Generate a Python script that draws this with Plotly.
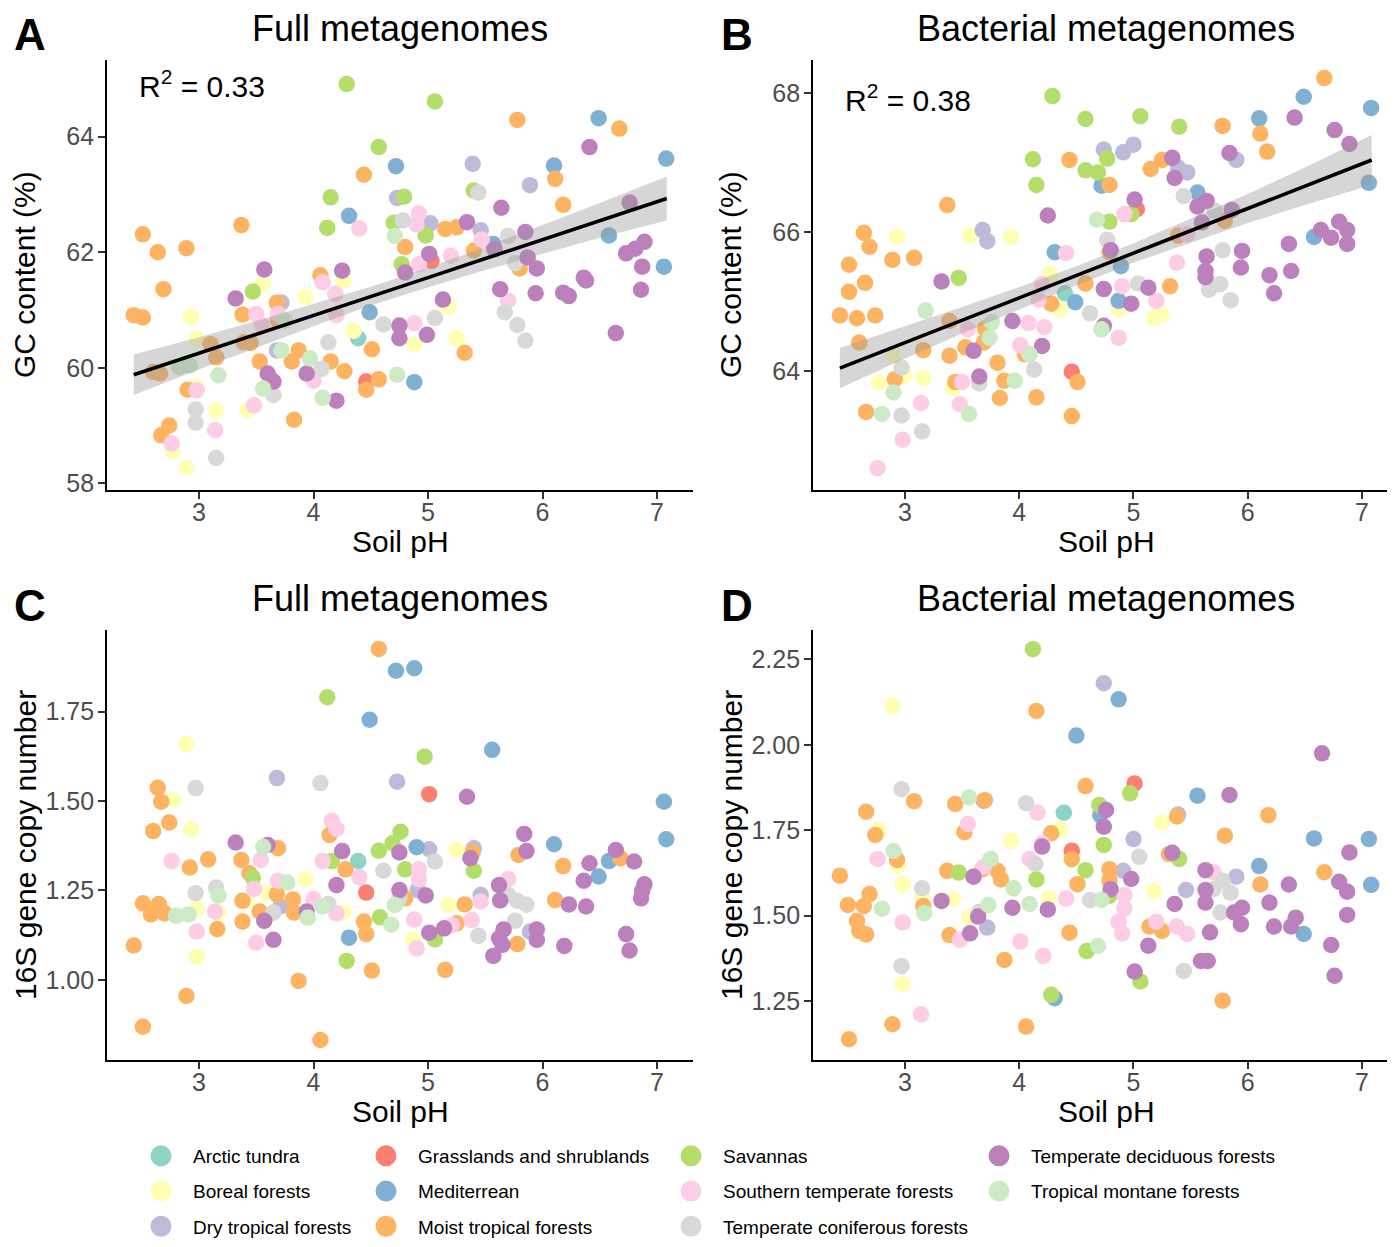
import plotly.graph_objects as go

# ---------------- categories ----------------
CATS = ["Arctic tundra", "Boreal forests", "Dry tropical forests",
        "Grasslands and shrublands", "Mediterrean", "Moist tropical forests",
        "Savannas", "Southern temperate forests", "Temperate coniferous forests",
        "Temperate deciduous forests", "Tropical montane forests"]
COLORS = ["#8DD3C7", "#FFFFB3", "#BEBADA", "#FB8072", "#80B1D3", "#FDB462",
          "#B3DE69", "#FCCDE5", "#D9D9D9", "#BC80BD", "#CCEBC5"]

# ---------------- Panel A: full metagenomes, GC content ----------------
A_ARC = [(4.39, 60.51)]
A_BOR = [(3.56, 61.45), (2.93, 60.88), (2.98, 60.50), (2.98, 59.67), (3.15, 59.26), (3.42, 59.26),
         (2.77, 58.55), (2.89, 58.27), (3.93, 61.22), (4.26, 61.51), (4.35, 60.64), (5.18, 61.05),
         (5.25, 60.51), (4.88, 60.40)]
A_DRY = [(4.73, 62.94), (3.72, 61.13), (3.68, 60.30), (5.39, 63.53), (5.89, 63.16), (5.02, 62.50), (5.46, 62.38)]
A_GRA = [(4.46, 59.76), (5.03, 61.85)]
A_MED = [(4.72, 63.49), (4.31, 62.63), (4.49, 60.96), (6.49, 64.32), (6.10, 63.50), (7.08, 63.62),
         (6.58, 62.29), (7.06, 61.75), (4.88, 59.75), (5.57, 62.14)]
A_MOI = [(2.51, 62.31), (2.64, 62.00), (2.89, 62.07), (3.37, 62.47), (2.69, 61.36), (2.43, 60.91),
         (2.51, 60.87), (3.38, 60.92), (3.68, 61.13), (2.60, 59.93), (2.66, 59.90), (2.90, 59.62),
         (2.74, 59.00), (2.67, 58.83), (3.10, 60.41), (3.15, 60.18), (3.39, 60.44), (3.45, 60.43),
         (3.53, 60.11), (3.81, 60.11), (3.87, 60.30), (3.83, 59.10), (4.06, 61.60), (4.15, 60.11),
         (4.27, 59.94), (4.51, 60.32), (4.57, 59.80), (4.44, 63.34), (4.46, 59.62), (3.69, 60.82),
         (5.78, 64.29), (6.67, 64.14), (6.11, 63.27), (6.18, 62.82), (5.15, 62.40), (5.25, 62.43),
         (4.80, 62.09), (5.40, 62.03), (5.80, 61.72), (5.32, 60.26)]
A_SAV = [(4.29, 64.91), (4.57, 63.82), (4.15, 62.95), (4.12, 62.42), (3.47, 61.32), (4.70, 62.51),
         (4.77, 61.79), (5.06, 64.61), (4.79, 62.96), (4.98, 62.29), (5.40, 63.07)]
A_SOU = [(4.40, 62.41), (4.08, 61.48), (4.19, 61.28), (4.20, 60.91), (3.50, 60.93), (3.55, 60.73),
         (3.69, 60.93), (2.98, 59.61), (2.76, 58.69), (3.14, 58.92), (3.48, 59.35), (4.00, 59.78),
         (4.92, 62.67), (4.90, 62.48), (5.20, 61.94), (4.92, 61.79), (5.70, 61.16), (4.88, 60.77),
         (5.47, 62.22)]
A_CON = [(2.97, 59.28), (2.97, 59.05), (3.15, 58.44), (3.65, 59.53), (4.13, 60.44), (4.61, 60.75),
         (4.07, 59.98), (5.44, 63.03), (4.78, 62.55), (5.70, 62.28), (5.76, 61.81), (5.06, 60.86),
         (5.67, 60.96), (5.78, 60.74), (5.85, 60.47)]
A_DEC = [(3.57, 61.70), (3.32, 61.20), (4.25, 61.68), (3.60, 59.90), (3.65, 59.76), (3.94, 59.90),
         (4.20, 59.43), (4.75, 60.73), (4.75, 60.51), (6.41, 63.82), (5.64, 62.77), (5.34, 62.52),
         (5.85, 62.35), (6.76, 62.86), (5.01, 61.97), (5.58, 62.05), (5.87, 61.91), (5.95, 61.72),
         (5.13, 61.18), (5.63, 61.36), (5.94, 61.29), (6.18, 61.30), (6.23, 61.24), (6.36, 61.56),
         (6.38, 61.51), (6.73, 61.98), (6.81, 62.06), (6.89, 62.18), (6.87, 61.75), (6.86, 61.35),
         (6.64, 60.60), (4.99, 60.57), (4.80, 61.65)]
A_MON = [(4.71, 62.28), (3.75, 60.82), (3.97, 60.16), (2.83, 60.01), (2.92, 60.04), (3.17, 59.87),
         (3.56, 59.64), (4.08, 59.48), (4.73, 59.88), (3.72, 60.30)]

# ---------------- Panel B: bacterial metagenomes, GC content ----------------
B_ARC = [(4.40, 65.12)]
B_BOR = [(2.93, 65.93), (3.57, 65.95), (3.93, 65.93), (4.27, 65.40), (4.36, 64.89), (2.90, 64.22),
         (2.77, 63.83), (2.99, 63.93), (3.16, 63.90), (3.42, 63.75), (4.87, 64.89), (5.18, 64.77),
         (5.25, 64.81)]
B_DRY = [(3.68, 66.03), (3.72, 65.87), (4.74, 67.19), (4.91, 67.15), (5.00, 67.26), (5.39, 66.93),
         (5.47, 66.86), (5.90, 67.04)]
B_GRA = [(4.46, 63.99), (5.03, 66.33)]
B_MED = [(4.31, 65.71), (4.49, 64.99), (4.72, 66.67), (6.49, 67.95), (6.10, 67.64), (7.08, 67.79),
         (7.06, 66.71), (6.58, 65.93), (5.56, 66.57), (4.89, 65.51), (4.87, 65.01)]
B_MOI = [(4.44, 67.04), (3.37, 66.39), (2.64, 65.99), (2.69, 65.79), (2.89, 65.60), (3.08, 65.63),
         (2.51, 65.53), (2.65, 65.27), (2.51, 65.14), (2.43, 64.80), (2.58, 64.76), (2.74, 64.80),
         (2.60, 64.41), (3.16, 64.30), (3.39, 64.22), (3.53, 64.34), (3.69, 64.41), (3.70, 64.61),
         (3.39, 64.72), (3.81, 64.12), (3.87, 63.86), (3.83, 63.61), (4.15, 63.62), (4.51, 63.84),
         (4.46, 63.35), (2.66, 63.41), (2.91, 63.88), (3.44, 63.84), (4.28, 64.97), (4.58, 65.26),
         (4.05, 64.24), (6.67, 68.22), (5.78, 67.53), (6.11, 67.42), (6.17, 67.16), (5.15, 66.91),
         (5.25, 67.04), (4.79, 66.68), (5.39, 65.95), (5.80, 66.16), (5.32, 65.22), (4.79, 65.71)]
B_SAV = [(4.29, 67.96), (4.58, 67.63), (4.12, 67.05), (4.15, 66.68), (4.58, 66.89), (4.69, 66.86),
         (3.47, 65.34), (5.06, 67.67), (5.40, 67.52), (4.77, 67.06), (4.79, 66.15), (4.98, 66.26)]
B_SOU = [(4.41, 65.70), (4.20, 65.25), (4.17, 65.03), (3.55, 64.60), (4.08, 64.69), (4.22, 64.63),
         (4.01, 64.37), (3.50, 63.84), (3.14, 63.54), (3.48, 63.52), (2.98, 63.01), (2.76, 62.60),
         (4.92, 66.26), (5.47, 65.97), (5.38, 65.56), (4.90, 65.22), (5.20, 65.01), (5.70, 65.23),
         (4.87, 64.48)]
B_CON = [(4.62, 64.83), (4.13, 64.02), (3.65, 63.82), (2.97, 64.05), (2.97, 63.36), (3.15, 63.13),
         (5.44, 66.52), (5.71, 66.31), (4.77, 65.89), (5.78, 65.74), (5.04, 65.26), (5.76, 65.25),
         (5.66, 65.17), (5.85, 65.02)]
B_DEC = [(4.25, 66.24), (3.32, 65.29), (3.60, 64.29), (3.94, 64.72), (4.20, 64.36), (3.65, 63.92),
         (4.74, 65.18), (4.74, 64.65), (6.41, 67.65), (6.76, 67.47), (6.89, 67.27), (5.84, 67.14),
         (5.34, 67.07), (5.36, 66.78), (5.01, 66.47), (5.56, 66.37), (5.64, 66.45), (5.86, 66.32),
         (5.60, 66.14), (4.80, 65.74), (5.64, 65.65), (5.63, 65.44), (5.63, 65.35), (5.95, 65.73),
         (5.94, 65.49), (6.19, 65.38), (6.23, 65.12), (6.36, 65.83), (6.38, 65.44), (6.64, 66.03),
         (6.73, 65.92), (6.80, 66.15), (6.87, 66.03), (6.87, 65.83), (4.98, 64.97), (5.13, 65.20)]
B_MON = [(4.68, 66.18), (3.18, 64.87), (3.76, 64.70), (3.74, 64.48), (4.09, 64.24), (3.96, 63.86),
         (2.90, 63.69), (2.80, 63.38), (3.56, 63.38), (4.72, 64.60)]

# ---------------- Panel C: full metagenomes, 16S copy number ----------------
C_ARC = [(4.39, 1.332)]
C_BOR = [(2.89, 1.659), (2.77, 1.503), (2.93, 1.421), (2.98, 1.198), (3.17, 1.186), (2.98, 1.065),
         (3.58, 1.244), (3.42, 1.221), (3.93, 1.281), (4.26, 1.189), (5.25, 1.363), (5.18, 1.209),
         (4.87, 1.112)]
C_DRY = [(3.68, 1.564), (4.73, 1.554), (3.71, 1.205), (5.01, 1.365), (5.40, 1.368), (5.46, 1.237),
         (4.91, 1.251), (5.89, 1.135)]
C_GRA = [(4.46, 1.244), (5.01, 1.519)]
C_MED = [(4.72, 1.864), (4.88, 1.871), (4.49, 1.727), (4.31, 1.118), (5.56, 1.643), (7.06, 1.498),
         (7.08, 1.393), (6.10, 1.379), (6.58, 1.332), (6.49, 1.289), (4.90, 1.371)]
C_MOI = [(4.57, 1.925), (2.64, 1.537), (2.67, 1.498), (2.74, 1.440), (2.60, 1.416), (2.92, 1.314),
         (3.08, 1.337), (3.37, 1.335), (3.69, 1.368), (3.44, 1.298), (2.51, 1.214), (2.65, 1.212),
         (2.58, 1.183), (2.70, 1.186), (3.38, 1.221), (3.38, 1.163), (3.16, 1.142), (3.53, 1.191),
         (3.68, 1.239), (3.82, 1.225), (3.83, 1.188), (4.14, 1.405), (4.28, 1.309), (4.44, 1.163),
         (4.46, 1.128), (2.43, 1.096), (4.51, 1.026), (3.87, 0.997), (2.89, 0.955), (2.51, 0.869),
         (4.06, 0.832), (5.39, 1.356), (5.79, 1.349), (6.18, 1.318), (5.32, 1.211), (6.11, 1.223),
         (5.25, 1.158), (5.78, 1.100), (5.15, 1.028), (6.68, 1.340), (4.80, 1.228)]
C_SAV = [(4.12, 1.790), (3.47, 1.286), (4.57, 1.361), (4.69, 1.382), (4.76, 1.414), (4.58, 1.175),
         (4.29, 1.053), (4.16, 1.332), (4.80, 1.309), (4.97, 1.624), (5.40, 1.305), (5.06, 1.113)]
C_SOU = [(2.76, 1.332), (3.14, 1.191), (2.98, 1.135), (3.50, 1.104), (3.48, 1.254), (3.54, 1.335),
         (3.69, 1.277), (4.00, 1.226), (4.08, 1.332), (4.16, 1.444), (4.20, 1.422), (4.40, 1.287),
         (4.20, 1.186), (4.92, 1.309), (4.92, 1.281), (5.70, 1.282), (4.88, 1.169), (4.90, 1.088),
         (5.21, 1.153), (5.38, 1.167), (5.46, 1.219)]
C_CON = [(2.97, 1.536), (4.06, 1.550), (2.97, 1.242), (3.15, 1.258), (3.65, 1.188), (4.13, 1.212),
         (4.61, 1.305), (4.75, 1.228), (5.06, 1.331), (5.70, 1.237), (5.78, 1.221), (5.86, 1.210),
         (5.76, 1.165), (5.44, 1.123)]
C_DEC = [(3.32, 1.384), (3.60, 1.377), (3.57, 1.165), (3.65, 1.112), (3.94, 1.191), (4.25, 1.360),
         (4.20, 1.265), (4.75, 1.356), (4.75, 1.251), (5.34, 1.512), (5.84, 1.408), (5.86, 1.360),
         (5.37, 1.340), (6.41, 1.326), (6.64, 1.363), (6.80, 1.331), (6.36, 1.277), (6.89, 1.267),
         (6.87, 1.249), (6.86, 1.228), (6.23, 1.211), (6.38, 1.205), (4.98, 1.236), (5.62, 1.265),
         (5.63, 1.222), (5.01, 1.132), (5.14, 1.144), (5.66, 1.141), (5.62, 1.116), (5.65, 1.098),
         (5.57, 1.067), (5.95, 1.141), (5.95, 1.112), (6.19, 1.095), (6.73, 1.128), (6.76, 1.082)]
C_MON = [(2.80, 1.179), (2.91, 1.183), (3.17, 1.236), (3.56, 1.372), (3.77, 1.272), (3.95, 1.174),
         (4.08, 1.205), (4.68, 1.154), (4.71, 1.209)]

# ---------------- Panel D: bacterial metagenomes, 16S copy number ----------------
D_ARC = [(4.39, 1.801)]
D_BOR = [(2.89, 2.114), (2.77, 1.752), (2.94, 1.646), (2.98, 1.592), (3.15, 1.555), (3.42, 1.548),
         (2.98, 1.299), (3.93, 1.718), (4.36, 1.752), (4.26, 1.552), (3.56, 1.495), (5.25, 1.773),
         (5.18, 1.572)]
D_DRY = [(4.74, 2.180), (3.69, 1.836), (3.72, 1.465), (5.39, 1.796), (5.00, 1.724), (4.91, 1.631),
         (5.46, 1.575), (5.90, 1.614)]
D_GRA = [(4.46, 1.690), (5.01, 1.887)]
D_MED = [(4.50, 2.027), (4.31, 1.258), (4.71, 1.794), (4.87, 2.133), (5.56, 1.851), (6.58, 1.726),
         (7.06, 1.724), (6.10, 1.645), (7.08, 1.590), (6.49, 1.446)]
D_MOI = [(4.15, 2.099), (4.58, 1.879), (2.66, 1.804), (3.08, 1.835), (3.44, 1.827), (3.70, 1.838),
         (2.74, 1.736), (3.52, 1.744), (2.93, 1.663), (2.43, 1.617), (3.37, 1.631), (3.68, 1.636),
         (3.81, 1.631), (3.84, 1.606), (4.28, 1.741), (4.46, 1.665), (4.51, 1.592), (2.69, 1.563),
         (2.50, 1.531), (2.64, 1.528), (2.58, 1.484), (2.60, 1.455), (2.66, 1.445), (3.16, 1.528),
         (3.39, 1.443), (4.44, 1.450), (3.87, 1.370), (2.89, 1.182), (2.51, 1.138), (4.06, 1.175),
         (6.18, 1.794), (5.38, 1.790), (5.80, 1.734), (5.31, 1.680), (4.79, 1.636), (6.11, 1.591),
         (6.67, 1.627), (4.79, 1.604), (5.14, 1.468), (5.25, 1.455), (5.78, 1.251)]
D_SAV = [(4.12, 2.280), (4.70, 1.824), (4.58, 1.633), (4.15, 1.606), (3.47, 1.626), (4.59, 1.396),
         (4.74, 1.707), (4.28, 1.268), (4.97, 1.858), (5.40, 1.666), (4.79, 1.558), (5.06, 1.307)]
D_SOU = [(4.16, 1.801), (3.55, 1.768), (4.20, 1.711), (2.76, 1.666), (4.09, 1.666), (3.69, 1.643),
         (4.41, 1.550), (2.98, 1.480), (3.48, 1.429), (4.01, 1.424), (4.21, 1.382), (3.14, 1.211),
         (5.70, 1.627), (4.92, 1.560), (4.92, 1.521), (4.87, 1.482), (4.90, 1.448), (5.20, 1.482),
         (5.38, 1.468), (5.47, 1.446)]
D_CON = [(2.97, 1.870), (4.06, 1.829), (4.14, 1.651), (3.15, 1.580), (3.65, 1.511), (4.62, 1.546),
         (2.97, 1.352), (5.05, 1.672), (5.78, 1.602), (5.70, 1.577), (5.85, 1.567), (5.76, 1.509),
         (5.44, 1.338)]
D_DEC = [(4.20, 1.702), (3.60, 1.614), (3.32, 1.543), (3.64, 1.497), (3.94, 1.523), (4.25, 1.518),
         (3.57, 1.448), (4.74, 1.760), (6.65, 1.975), (5.84, 1.853), (4.76, 1.809), (5.34, 1.684),
         (5.63, 1.633), (6.36, 1.591), (6.80, 1.599), (6.87, 1.570), (6.89, 1.685), (4.98, 1.607),
         (4.80, 1.577), (5.63, 1.575), (5.63, 1.538), (5.36, 1.534), (5.88, 1.509), (5.95, 1.523),
         (5.94, 1.475), (6.19, 1.538), (6.23, 1.468), (6.38, 1.468), (6.42, 1.494), (6.87, 1.502),
         (6.73, 1.414), (6.76, 1.324), (5.67, 1.451), (5.13, 1.412), (5.01, 1.336), (5.59, 1.367),
         (5.65, 1.367)]
D_MON = [(3.56, 1.846), (2.90, 1.689), (3.17, 1.507), (2.80, 1.520), (3.75, 1.666), (3.73, 1.531),
         (3.95, 1.580), (4.09, 1.534), (4.69, 1.411), (4.72, 1.546)]

# ---------------- regression fits (line + 95% CI ribbon) ----------------
FIT_X = [2.43, 3.0, 3.5, 4.0, 4.5, 5.0, 5.5, 6.0, 6.5, 7.085]
A_FIT = [59.88, 60.25, 60.58, 60.91, 61.24, 61.56, 61.89, 62.22, 62.55, 62.93]
A_LO = [59.53, 59.97, 60.35, 60.72, 61.08, 61.39, 61.69, 61.97, 62.25, 62.55]
A_HI = [60.23, 60.53, 60.81, 61.10, 61.40, 61.73, 62.09, 62.47, 62.85, 63.31]
B_FIT = [64.04, 64.41, 64.73, 65.05, 65.37, 65.70, 66.02, 66.34, 66.66, 67.04]
B_LO = [63.75, 64.18, 64.54, 64.89, 65.23, 65.56, 65.85, 66.13, 66.39, 66.68]
B_HI = [64.33, 64.64, 64.92, 65.21, 65.51, 65.84, 66.19, 66.55, 66.93, 67.40]
R2_LABELS = ["0.33", "0.38"]

X_TICKS = [3, 4, 5, 6, 7]
A_YTICKS = [58, 60, 62, 64]
B_YTICKS = [64, 66, 68]
C_YTICKS = [1.00, 1.25, 1.50, 1.75]
D_YTICKS = [1.25, 1.50, 1.75, 2.00, 2.25]

PANELS = [
    [A_ARC, A_BOR, A_DRY, A_GRA, A_MED, A_MOI, A_SAV, A_SOU, A_CON, A_DEC, A_MON],
    [B_ARC, B_BOR, B_DRY, B_GRA, B_MED, B_MOI, B_SAV, B_SOU, B_CON, B_DEC, B_MON],
    [C_ARC, C_BOR, C_DRY, C_GRA, C_MED, C_MOI, C_SAV, C_SOU, C_CON, C_DEC, C_MON],
    [D_ARC, D_BOR, D_DRY, D_GRA, D_MED, D_MOI, D_SAV, D_SOU, D_CON, D_DEC, D_MON],
]

# ---------------- layout helpers (screen pixels -> paper coords) ----------------
W, H, OFF = 1379, 1231, 8
FONT = "Liberation Sans, Arial, Helvetica, sans-serif"


def px(X):
    return (X - OFF) / W


def py(Y):
    return 1 - (Y - OFF) / H


AX_SUFFIX = ["", "2", "3", "4"]
LEGEND_OF_CAT = ["legend", "legend", "legend", "legend2", "legend2", "legend2",
                 "legend3", "legend3", "legend3", "legend4", "legend4"]

fig = go.Figure()

for p, data in enumerate(PANELS):
    xa = "x" + AX_SUFFIX[p]
    ya = "y" + AX_SUFFIX[p]
    for c, pts in enumerate(data):
        fig.add_trace(go.Scatter(
            x=[v[0] for v in pts], y=[v[1] for v in pts],
            mode="markers", name=CATS[c], legendgroup=CATS[c], showlegend=False,
            marker=dict(size=16.5, color=COLORS[c], line=dict(width=0)),
            xaxis=xa, yaxis=ya))

for p, (fit, lo, hi) in enumerate([(A_FIT, A_LO, A_HI), (B_FIT, B_LO, B_HI)]):
    xa = "x" + AX_SUFFIX[p]
    ya = "y" + AX_SUFFIX[p]
    fig.add_trace(go.Scatter(
        x=FIT_X + FIT_X[::-1], y=hi + lo[::-1], fill="toself",
        fillcolor="rgba(153,153,153,0.4)", line=dict(width=0), mode="lines",
        showlegend=False, hoverinfo="skip", xaxis=xa, yaxis=ya))
    fig.add_trace(go.Scatter(
        x=FIT_X, y=fit, mode="lines", line=dict(color="black", width=3.6),
        showlegend=False, hoverinfo="skip", xaxis=xa, yaxis=ya))

# legend entries (key glyphs only, no data drawn)
for c in range(len(CATS)):
    fig.add_trace(go.Scatter(
        x=[None], y=[None], mode="markers", name=CATS[c], legendgroup=CATS[c],
        legend=LEGEND_OF_CAT[c], showlegend=True,
        marker=dict(size=16, color=COLORS[c], line=dict(width=5, color=COLORS[c]))))

# axes
left_dom = [px(107), px(693)]
right_dom = [px(813), 1.0]
top_dom = [py(490), py(60)]
bot_dom = [py(1060), py(630)]
XR_L = [2.1965, 7.314]
XR_R = [2.195, 3 + (1387 - 905) / 114.25]
X_RANGES = [XR_L, XR_R, XR_L, XR_R]
Y_RANGES = [[57.884, 65.327], [62.285, 68.48], [0.776, 1.978], [1.0773, 2.336]]
Y_TICKS = [A_YTICKS, B_YTICKS, C_YTICKS, D_YTICKS]
X_DOMS = [left_dom, right_dom, left_dom, right_dom]
Y_DOMS = [top_dom, top_dom, bot_dom, bot_dom]

common = dict(showline=True, linecolor="black", linewidth=1.8, mirror=False,
              ticks="outside", ticklen=7, tickwidth=1.6, tickcolor="#333333",
              showgrid=False, zeroline=False,
              tickfont=dict(family=FONT, size=25, color="#4D4D4D"))
lay = {}
for p in range(4):
    s = AX_SUFFIX[p]
    lay["xaxis" + s] = dict(domain=X_DOMS[p], range=X_RANGES[p], tickvals=X_TICKS,
                            anchor="y" + s, ticklabelstandoff=-8, **common)
    ytext = [("%.2f" % v) if p >= 2 else str(v) for v in Y_TICKS[p]]
    lay["yaxis" + s] = dict(domain=Y_DOMS[p], range=Y_RANGES[p], tickvals=Y_TICKS[p],
                            ticktext=ytext, anchor="x" + s, ticklabelstandoff=-1, **common)

annots = []
titles = [("Full metagenomes", 400, 28), ("Bacterial metagenomes", 1106, 28),
          ("Full metagenomes", 400, 598), ("Bacterial metagenomes", 1106, 598)]
for t, X, Y in titles:
    annots.append(dict(text=t, x=px(X), y=py(Y), xref="paper", yref="paper",
                       showarrow=False, xanchor="center", yanchor="middle",
                       font=dict(family=FONT, size=36, color="black")))
for t, X, Y in [("A", 30, 35), ("B", 737, 35), ("C", 30, 605), ("D", 737, 605)]:
    annots.append(dict(text="<b>%s</b>" % t, x=px(X), y=py(Y), xref="paper", yref="paper",
                       showarrow=False, xanchor="center", yanchor="middle",
                       font=dict(family=FONT, size=44, color="black")))
for X, Y in [(400, 541), (1106, 541), (400, 1111), (1106, 1111)]:
    annots.append(dict(text="Soil pH", x=px(X), y=py(Y), xref="paper", yref="paper",
                       showarrow=False, xanchor="center", yanchor="middle",
                       font=dict(family=FONT, size=30, color="black")))
for t, X, Y in [("GC content (%)", 25, 275), ("GC content (%)", 731, 275),
                ("16S gene copy number", 25, 845), ("16S gene copy number", 731, 845)]:
    annots.append(dict(text=t, x=px(X), y=py(Y), xref="paper", yref="paper",
                       showarrow=False, xanchor="center", yanchor="middle", textangle=-90,
                       font=dict(family=FONT, size=30, color="black")))
for lab, X, Y in [(R2_LABELS[0], 137, 84), (R2_LABELS[1], 843, 98)]:
    annots.append(dict(text="R<sup>2</sup> = " + lab, x=px(X), y=py(Y), xref="paper", yref="paper",
                       showarrow=False, xanchor="left", yanchor="middle",
                       font=dict(family=FONT, size=30, color="black")))

legend_common = dict(orientation="v", xanchor="left", yanchor="top", bgcolor="rgba(0,0,0,0)",
                     font=dict(family=FONT, size=19, color="black"), tracegroupgap=7.5,
                     itemsizing="trace", itemwidth=54)
for name, X in [("legend", 161), ("legend2", 386), ("legend3", 691), ("legend4", 999)]:
    lay[name] = dict(x=px(X - 32), y=py(1137), **legend_common)

fig.update_layout(
    width=W, height=H, margin=dict(l=0, r=0, t=0, b=0, autoexpand=False),
    plot_bgcolor="white", paper_bgcolor="white",
    font=dict(family=FONT), annotations=annots, **lay)

fig.write_html("out.html")
